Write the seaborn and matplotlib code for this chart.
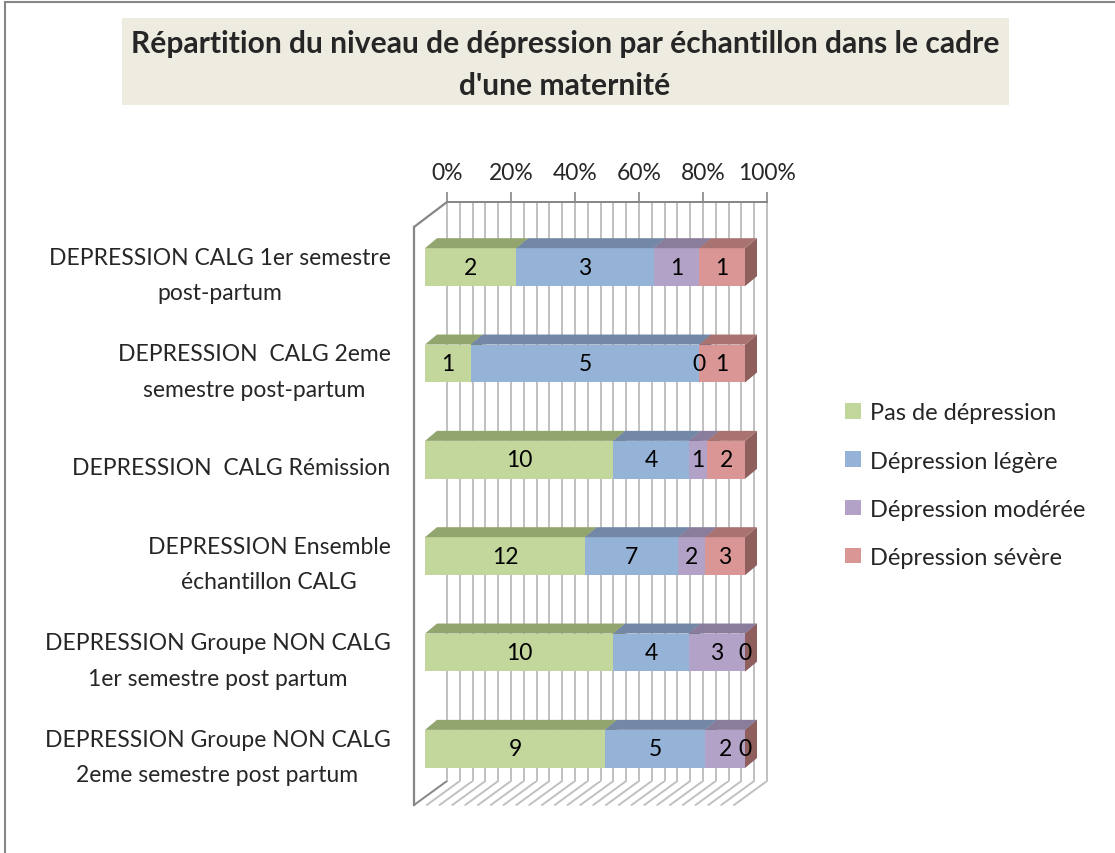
import matplotlib
matplotlib.use("Agg")

import matplotlib.pyplot as plt
import matplotlib.transforms as mtransforms
from matplotlib.lines import Line2D
from matplotlib.patches import Patch, Polygon, Rectangle
import numpy as np
import pandas as pd
import seaborn as sns

# -- data ------------------------------------------------------------
categories = [
    "DEPRESSION CALG 1er semestre\npost-partum",
    "DEPRESSION  CALG 2eme\nsemestre post-partum",
    "DEPRESSION  CALG Rémission",
    "DEPRESSION Ensemble\néchantillon CALG",
    "DEPRESSION Groupe NON CALG\n1er semestre post partum",
    "DEPRESSION Groupe NON CALG\n2eme semestre post partum",
]
series = ["Pas de dépression", "Dépression légère", "Dépression modérée", "Dépression sévère"]
pas_depression = [2, 1, 10, 12, 10, 9]
depression_legere = [3, 5, 4, 7, 4, 5]
depression_moderee = [1, 0, 1, 2, 3, 2]
depression_severe = [1, 1, 2, 3, 0, 0]
pct_ticks = [0, 0.2, 0.4, 0.6, 0.8, 1.0]
pct_labels = ["0%", "20%", "40%", "60%", "80%", "100%"]

counts = np.array([pas_depression, depression_legere, depression_moderee, depression_severe]).T
shares = counts / counts.sum(axis=1, keepdims=True)
lefts = np.cumsum(shares, axis=1) - shares

# -- style -----------------------------------------------------------
FACE = ["#C3D69B", "#95B3D7", "#B3A2C7", "#D99694"]
TOP = ["#93A56F", "#7388A7", "#8A7C9B", "#A87371"]
SIDE = ["#7F8F60", "#627590", "#766A85", "#8E5F5D"]
GRID = "#C0C0C0"
AXIS = "#868686"
FS = 16.5

W, H = 1115, 854
FRONT_OFF = (11, 8)   # bar front face, pixels from the front plane
BACK_OFF = (23, 18)   # bar back face


def box(l, t, r, b):
    return [l / W, 1 - b / H, (r - l) / W, (b - t) / H]


sns.set_style("white")
plt.rcParams["font.family"] = ["Lato", "DejaVu Sans"]

fig = plt.figure(figsize=(W / 100, H / 100), dpi=100)
ax_back = fig.add_axes(box(447, 203, 767, 782), zorder=0)
ax = fig.add_axes(box(414, 228, 734, 806), zorder=1)
ax.patch.set_visible(False)

# -- back wall -------------------------------------------------------
ax_back.set_xlim(0, 1)
ax_back.set_ylim(0, 1)
grid_x = np.arange(0, 1.0001, 0.04)
ax_back.vlines(grid_x, 0, 1, color=GRID, lw=1.4, clip_on=False)
for s in ["left", "right", "bottom"]:
    ax_back.spines[s].set_visible(False)
ax_back.spines["top"].set_color(AXIS)
ax_back.spines["top"].set_linewidth(1.4)
ax_back.xaxis.tick_top()
ax_back.set_xticks(pct_ticks)
ax_back.set_xticklabels(pct_labels)
ax_back.tick_params(axis="x", length=7, color=AXIS, width=1.2, labelsize=FS, pad=7)
ax_back.set_yticks([])

# -- bars (front faces) ----------------------------------------------
front_tr = mtransforms.offset_copy(ax.transData, fig=fig, x=FRONT_OFF[0], y=FRONT_OFF[1], units="dots")
bar_groups = []
for i, name in enumerate(series):
    df = pd.DataFrame({"cat": categories, "share": shares[:, i]})
    n0 = len(ax.patches)
    sns.barplot(data=df, x="share", y="cat", orient="h", color=FACE[i], width=0.394,
                errorbar=None, saturation=1, linewidth=0, ax=ax)
    group = ax.patches[n0:]
    for p, left in zip(group, lefts[:, i]):
        p.set_x(left)
        p.set_transform(front_tr)
        p.set_clip_on(False)
        p.set_zorder(2)
    bar_groups.append(group)

ax.set_xlim(0, 1)
ax.set_ylim(len(categories) - 0.5, -0.5)
ax.set_xlabel("")
ax.set_ylabel("")
ax.set_xticks([])
for s in ["top", "right", "bottom"]:
    ax.spines[s].set_visible(False)
ax.spines["left"].set_color(AXIS)
ax.spines["left"].set_linewidth(1.6)
ax.set_yticks(np.arange(len(categories) + 1) - 0.5, minor=True)
ax.tick_params(axis="y", which="minor", length=7, color=AXIS, width=1.2)
ax.tick_params(axis="y", which="major", length=0, labelsize=FS, pad=17)
ax.set_yticks(range(len(categories)))
ax.set_yticklabels(categories, multialignment="center", linespacing=1.85, va="center")

ident = mtransforms.IdentityTransform()


def px(x, y, off):
    X, Y = ax.transData.transform((x, y))
    return (X + off[0], Y + off[1])


# -- 3D faces --------------------------------------------------------
for i, group in enumerate(bar_groups):
    for p in group:
        x0, x1 = p.get_x(), p.get_x() + p.get_width()
        yt, yb = p.get_y(), p.get_y() + p.get_height()
        side = [px(x1, yt, FRONT_OFF), px(x1, yt, BACK_OFF), px(x1, yb, BACK_OFF), px(x1, yb, FRONT_OFF)]
        ax.add_patch(Polygon(side, closed=True, facecolor=SIDE[i], edgecolor="none",
                             transform=ident, clip_on=False, zorder=1))
        if x1 > x0:
            top = [px(x0, yt, FRONT_OFF), px(x1, yt, FRONT_OFF), px(x1, yt, BACK_OFF), px(x0, yt, BACK_OFF)]
            ax.add_patch(Polygon(top, closed=True, facecolor=TOP[i], edgecolor="none",
                                 transform=ident, clip_on=False, zorder=2))

# data labels
for r in range(len(categories)):
    for i in range(len(series)):
        ax.text(lefts[r, i] + shares[r, i] / 2, r, str(counts[r, i]), transform=front_tr,
                ha="center", va="center", fontsize=FS, color="black", zorder=3, clip_on=False)

# -- floor and side wall edges ---------------------------------------
y_floor = len(categories) - 0.5
for v in grid_x:
    a = ax_back.transData.transform((v, 0))
    b = ax.transData.transform((v, y_floor))
    fig.add_artist(Line2D([a[0], b[0]], [a[1], b[1]], color=AXIS if v == 0 else GRID,
                          lw=1.4, transform=ident, zorder=0))
a = ax_back.transData.transform((0, 1))
b = ax.transData.transform((0, -0.5))
fig.add_artist(Line2D([a[0], b[0]], [a[1], b[1]], color=AXIS, lw=1.6, transform=ident))

# -- legend ----------------------------------------------------------
handles = [Patch(facecolor=c, edgecolor="none") for c in FACE]
fig.legend(handles, series, loc="upper left", bbox_to_anchor=(836 / W, 1 - 394 / H),
           frameon=False, fontsize=17, handlelength=0.65, handleheight=0.65,
           handletextpad=0.4, labelspacing=1.15, borderaxespad=0)

# -- title -----------------------------------------------------------
fig.add_artist(Rectangle((122 / W, 1 - 106 / H), (1009 - 122) / W, 87 / H,
                         transform=fig.transFigure, facecolor="#EEECE1", edgecolor="none", zorder=0))
fig.text(565 / W, 1 - 65 / H,
         "Répartition du niveau de dépression par échantillon dans le cadre\nd'une maternité",
         ha="center", va="center", fontsize=21.6, fontweight="bold", linespacing=1.58)

# outer frame
fig.add_artist(Line2D([5 / W, 5 / W], [0, 1 - 3 / H], color=AXIS, lw=1.5, transform=fig.transFigure))
fig.add_artist(Line2D([5 / W, 1], [1 - 3 / H, 1 - 3 / H], color=AXIS, lw=1.5, transform=fig.transFigure))

fig.savefig("out.png", dpi=100)
plt.close(fig)
